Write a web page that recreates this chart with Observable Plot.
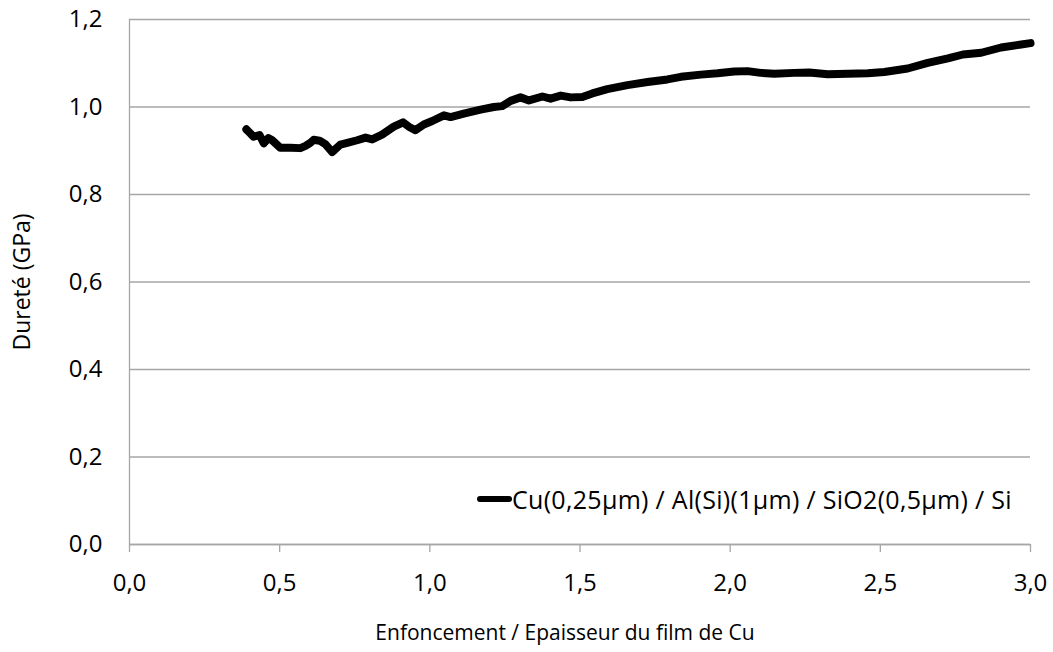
<!DOCTYPE html>
<html>
<head>
<meta charset="utf-8">
<script src="https://cdn.jsdelivr.net/npm/d3@7"></script>
<script src="https://cdn.jsdelivr.net/npm/@observablehq/plot@0.6"></script>
<style>
  html, body { margin: 0; padding: 0; background: #fff; }
  #wrap { position: relative; width: 1053px; height: 652px; font-family: "Open Sans", sans-serif; }
  #legend { position: absolute; left: 477px; top: 481px; height: 36px; display: flex; align-items: center; font-size: 25px; color: #000; white-space: nowrap; letter-spacing: 0.3px; }
  #legend .sw { width: 35px; height: 6px; background: #000; border-radius: 3px; margin-right: 0px; }
</style>
</head>
<body>
<div id="wrap"><div id="legend"><span class="sw"></span><span id="legtxt"></span></div></div>
<script>
const seriesName = "Cu(0,25µm) / Al(Si)(1µm) / SiO2(0,5µm) / Si";
const depthRatio = [0.389,0.402,0.413,0.433,0.447,0.463,0.475,0.502,0.536,0.569,0.586,0.602,0.613,0.633,0.652,0.675,0.702,0.725,0.758,0.786,0.808,0.841,0.880,0.911,0.930,0.952,0.980,1.008,1.047,1.069,1.113,1.169,1.213,1.241,1.269,1.302,1.330,1.375,1.402,1.436,1.469,1.508,1.541,1.591,1.658,1.725,1.791,1.836,1.902,1.958,2.013,2.058,2.102,2.147,2.213,2.263,2.325,2.391,2.458,2.513,2.591,2.658,2.725,2.775,2.836,2.902,2.969,3.0];
const hardness = [0.949,0.940,0.932,0.936,0.917,0.929,0.924,0.907,0.907,0.906,0.911,0.918,0.925,0.923,0.915,0.897,0.914,0.918,0.924,0.930,0.926,0.937,0.955,0.965,0.955,0.947,0.960,0.968,0.981,0.977,0.985,0.994,1.000,1.002,1.014,1.022,1.015,1.024,1.019,1.026,1.022,1.023,1.031,1.041,1.050,1.057,1.063,1.069,1.074,1.077,1.081,1.082,1.078,1.076,1.078,1.079,1.075,1.076,1.077,1.080,1.088,1.101,1.111,1.120,1.124,1.136,1.143,1.146];
const xTicks = [0,0.5,1,1.5,2,2.5,3];
const yTicks = [0,0.2,0.4,0.6,0.8,1.0,1.2];
const xLabel = "Enfoncement / Epaisseur du film de Cu";
const yLabel = "Dureté (GPa)";

const data = depthRatio.map((x, i) => ({x, y: hardness[i]}));
const fmt = d => d.toFixed(1).replace(".", ",");
const grey = "#a6a6a6";

const chart = Plot.plot({
  width: 1053,
  height: 652,
  marginLeft: 129,
  marginRight: 23,
  marginTop: 19,
  marginBottom: 108,
  style: {fontFamily: "Open Sans, sans-serif", fontSize: "24px", color: "#000", background: "#fff"},
  x: {domain: [0, 3]},
  y: {domain: [0, 1.2]},
  marks: [
    Plot.gridY(yTicks, {stroke: grey, strokeOpacity: 1, strokeWidth: 1.3}),
    Plot.ruleX([0], {stroke: grey, strokeWidth: 1.3}),
    Plot.axisY(yTicks, {tickSize: 0, tickPadding: 27, tickFormat: fmt, fontSize: 24, label: null}),
    Plot.axisX(xTicks, {tickSize: 8, stroke: grey, strokeWidth: 1.3, tickPadding: 21, tickFormat: fmt, fontSize: 24, label: null}),
    Plot.text([yLabel], {frameAnchor: "left", dx: -107, rotate: -90, fontSize: 23, textAnchor: "middle", lineAnchor: "middle", fill: "#000"}),
    Plot.text([xLabel], {frameAnchor: "bottom", dx: -15, dy: 89, fontSize: 21, textAnchor: "middle", lineAnchor: "middle", fill: "#000", letterSpacing: "-0.4px"}),
    Plot.ruleY([0], {stroke: grey, strokeWidth: 1.3}),
    Plot.line(data, {x: "x", y: "y", stroke: "#000", strokeWidth: 8, strokeLinejoin: "round", strokeLinecap: "round"})
  ]
});
const wrap = document.getElementById("wrap");
wrap.insertBefore(chart, wrap.firstChild);
document.getElementById("legtxt").textContent = seriesName;
</script>
</body>
</html>
